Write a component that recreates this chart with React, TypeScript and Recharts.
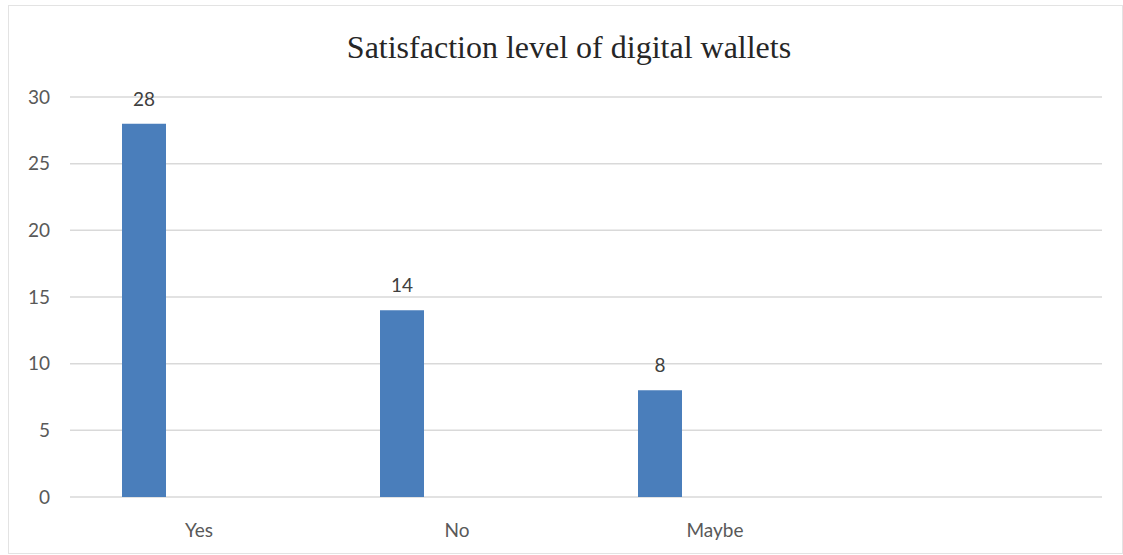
import { BarChart, Bar, XAxis, YAxis, CartesianGrid, LabelList } from "recharts";

const CATEGORIES = ["Yes", "No", "Maybe", ""];
const RESPONSES = [28, 14, 8, null];
const Y_TICKS = [0, 5, 10, 15, 20, 25, 30];

// Excel clustered layout: the responses are the first of three slots in each category
const data = CATEGORIES.map((name, i) => ({
  name,
  responses: RESPONSES[i],
  blankA: null,
  blankB: null,
}));

const tickFont = { fontFamily: "Lato, 'Open Sans', sans-serif", fontSize: 19, fill: "#595959" };

export default function App() {
  return (
    <div style={{ position: "absolute", left: 0, top: 0, width: 1123, height: 555, background: "#fff" }}>
      {/* chart frame */}
      <div
        style={{
          position: "absolute",
          left: 8,
          top: 5,
          width: 1113,
          height: 547,
          border: "1px solid #e3e3e3",
        }}
      />
      <div
        style={{
          position: "absolute",
          left: 0,
          top: 31,
          width: 1138,
          textAlign: "center",
          fontFamily: "'Liberation Serif', 'Times New Roman', serif",
          fontSize: 32,
          lineHeight: "32px",
          color: "#262626",
        }}
      >
        Satisfaction level of digital wallets
      </div>
      <div style={{ position: "absolute", left: 0, top: 0 }}>
        <BarChart
          width={1123}
          height={555}
          data={data}
          margin={{ top: 97, right: 21, bottom: 18, left: 0 }}
          barSize={44}
          barGap={11}
        >
          <CartesianGrid vertical={false} stroke="#d9d9d9" strokeWidth={1.5} />
          <XAxis
            dataKey="name"
            height={40}
            axisLine={false}
            tickLine={false}
            tickSize={0}
            tickMargin={27}
            tick={tickFont}
            interval={0}
          />
          <YAxis
            width={70}
            domain={[0, 30]}
            ticks={Y_TICKS}
            axisLine={false}
            tickLine={false}
            tickSize={0}
            tickMargin={20}
            tick={tickFont}
          />
          <Bar dataKey="responses" fill="#4a7ebb" isAnimationActive={false}>
            <LabelList
              dataKey="responses"
              position="top"
              offset={18}
              style={{ fontFamily: "Lato, 'Open Sans', sans-serif", fontSize: 19, fill: "#404040" }}
            />
          </Bar>
          <Bar dataKey="blankA" fill="#c0504d" isAnimationActive={false} />
          <Bar dataKey="blankB" fill="#9bbb59" isAnimationActive={false} />
        </BarChart>
      </div>
    </div>
  );
}
